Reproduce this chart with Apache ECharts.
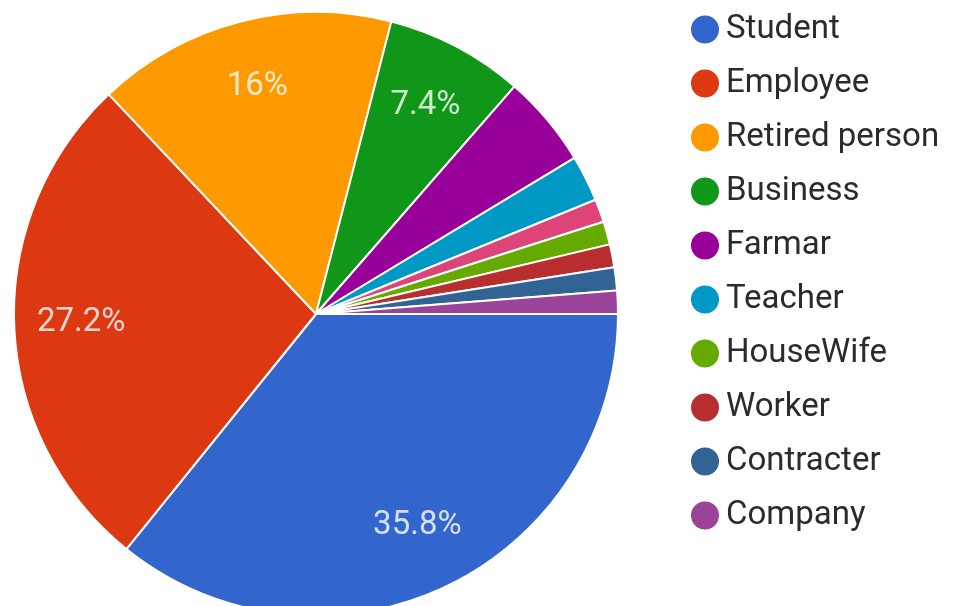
<!DOCTYPE html>
<html>
<head>
<meta charset="utf-8">
<title>Occupation</title>
<script src="https://cdn.jsdelivr.net/npm/echarts@6/dist/echarts.min.js"></script>
<style>
  html, body { margin: 0; padding: 0; background: #ffffff; }
  #chart { width: 953px; height: 606px; }
</style>
</head>
<body>
<div id="chart"></div>
<script>
// Responses per occupation (counts), in slice order clockwise from 3 o'clock
const categories = ['Student', 'Employee', 'Retired person', 'Business', 'Farmar', 'Teacher',
                    'Other', 'HouseWife', 'Worker', 'Contracter', 'Company'];
const counts = [29, 22, 13, 6, 4, 2, 1, 1, 1, 1, 1];
const sliceColors = ['#3366cc', '#dc3912', '#ff9900', '#109618', '#990099', '#0099c6',
                     '#dd4477', '#66aa00', '#b82e2e', '#316395', '#994499'];
// Entries listed in the legend
const legendNames = ['Student', 'Employee', 'Retired person', 'Business', 'Farmar', 'Teacher',
                     'HouseWife', 'Worker', 'Contracter', 'Company'];

const total = counts.reduce((a, b) => a + b, 0);

const data = categories.map((name, i) => ({
  name: name,
  value: counts[i],
  itemStyle: { color: sliceColors[i] }
}));

const pieCenter = [316, 314];
const pieRadius = 302;

// share of responses, one decimal, trailing ".0" dropped; small slices unlabeled
function pctLabel(p) {
  const pct = p.value / total * 100;
  if (pct < 5) return '';
  return String(Math.round(pct * 10) / 10) + '%';
}

const chart = echarts.init(document.getElementById('chart'), null, { renderer: 'canvas' });
chart.setOption({
  animation: false,
  backgroundColor: '#ffffff',
  legend: {
    data: legendNames,
    orient: 'vertical',
    left: 684,
    top: 8,
    icon: 'circle',
    itemWidth: 30,
    itemHeight: 30,
    itemGap: 21,
    textStyle: {
      fontFamily: 'Roboto',
      fontSize: 33,
      color: '#2b2b2b',
      padding: [0, 0, 0, 1]
    }
  },
  series: [
    {
      name: 'Occupation',
      type: 'pie',
      center: pieCenter,
      radius: [0, pieRadius],
      startAngle: 0,
      clockwise: true,
      data: data,
      itemStyle: { borderColor: '#ffffff', borderWidth: 2 },
      label: { show: false },
      labelLine: { show: false },
      emphasis: { disabled: true }
    },
    {
      // transparent ring that carries the percentage labels
      name: 'Labels',
      type: 'pie',
      center: pieCenter,
      radius: [162, pieRadius],
      startAngle: 0,
      clockwise: true,
      silent: true,
      data: data.map(d => ({ name: d.name, value: d.value })),
      itemStyle: { color: 'rgba(0,0,0,0)', borderWidth: 0 },
      avoidLabelOverlap: false,
      label: {
        show: true,
        position: 'inside',
        formatter: pctLabel,
        fontFamily: 'Roboto',
        fontSize: 33,
        color: 'rgba(255,255,255,0.8)'
      },
      labelLine: { show: false },
      emphasis: { disabled: true }
    }
  ]
});
</script>
</body>
</html>
